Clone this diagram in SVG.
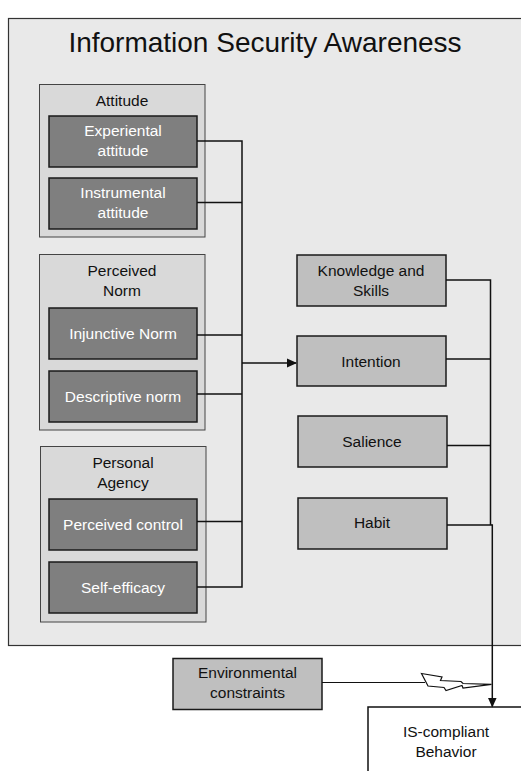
<svg xmlns="http://www.w3.org/2000/svg" width="521" height="771" viewBox="0 0 521 771">
<defs>
<style>
.t{font-family:"Liberation Sans",Arial,sans-serif;font-size:15.5px;text-anchor:middle;fill:#111}
.w{fill:#fff}
.grp{fill:#d9d9d9;stroke:#444;stroke-width:1}
.dk{fill:#7f7f7f;stroke:#1a1a1a;stroke-width:1.5}
.lt{fill:#bfbfbf;stroke:#1a1a1a;stroke-width:1.5}
.ln{fill:none;stroke:#111;stroke-width:1.5}
</style>
<marker id="ah" markerWidth="10" markerHeight="10" refX="9" refY="5" orient="auto" markerUnits="userSpaceOnUse">
<path d="M0,0.5 L10,5 L0,9.5 Z" fill="#111"/>
</marker>
</defs>
<rect width="521" height="771" fill="#fff"/>
<g id="isa">
<rect x="8.5" y="18.5" width="520" height="627" fill="#e9e9e9" stroke="#333" stroke-width="1.2"/>
<text x="265" y="52" class="t" style="font-size:28px">Information Security Awareness</text>
</g>
<g id="attitude">
<rect class="grp" x="39.5" y="84.5" width="165.5" height="152.5"/>
<text class="t" x="122" y="106">Attitude</text>
</g>
<g id="experiental">
<rect class="dk" x="49" y="116" width="148" height="51"/>
<text class="t w" x="123" y="136">Experiental</text>
<text class="t w" x="123" y="156">attitude</text>
</g>
<g id="instrumental">
<rect class="dk" x="49" y="178" width="148" height="51"/>
<text class="t w" x="123" y="198">Instrumental</text>
<text class="t w" x="123" y="218">attitude</text>
</g>
<g id="norm">
<rect class="grp" x="39.5" y="254.5" width="165.5" height="175.5"/>
<text class="t" x="122" y="276">Perceived</text>
<text class="t" x="122" y="296">Norm</text>
</g>
<g id="injunctive">
<rect class="dk" x="49" y="308" width="148" height="51"/>
<text class="t w" x="123" y="338.5">Injunctive Norm</text>
</g>
<g id="descriptive">
<rect class="dk" x="49" y="371" width="148" height="51"/>
<text class="t w" x="123" y="401.5">Descriptive norm</text>
</g>
<g id="agency">
<rect class="grp" x="40.5" y="446.5" width="165.5" height="175.5"/>
<text class="t" x="123" y="468">Personal</text>
<text class="t" x="123" y="488">Agency</text>
</g>
<g id="control">
<rect class="dk" x="49" y="499" width="148" height="51"/>
<text class="t w" x="123" y="530">Perceived control</text>
</g>
<g id="selfefficacy">
<rect class="dk" x="49" y="562" width="148" height="51"/>
<text class="t w" x="123" y="593">Self-efficacy</text>
</g>
<g id="knowledge">
<rect class="lt" x="297" y="255" width="149" height="51"/>
<text class="t" x="371" y="275.5">Knowledge and</text>
<text class="t" x="371" y="295.5">Skills</text>
</g>
<g id="intention">
<rect class="lt" x="297" y="336" width="149" height="50"/>
<text class="t" x="371" y="366.5">Intention</text>
</g>
<g id="salience">
<rect class="lt" x="298" y="416" width="149" height="51"/>
<text class="t" x="372" y="446.5">Salience</text>
</g>
<g id="habit">
<rect class="lt" x="298" y="498" width="149" height="51"/>
<text class="t" x="372" y="528">Habit</text>
</g>
<g id="environmental">
<rect class="lt" x="173" y="658.5" width="149" height="51"/>
<text class="t" x="247.5" y="678">Environmental</text>
<text class="t" x="247.5" y="698">constraints</text>
</g>
<g id="behavior">
<rect x="368" y="707" width="160" height="70" fill="#fff" stroke="#111" stroke-width="1.5"/>
<text class="t" x="446" y="736.5">IS-compliant</text>
<text class="t" x="446" y="756.5">Behavior</text>
</g>
<g id="connectors">
<path class="ln" d="M197,141 H242 M197,202.5 H242 M197,335 H242 M197,394 H242 M197,521.5 H242 M197,587 H242 M242,140.3 V587.7"/>
<path class="ln" d="M242,363 H296" marker-end="url(#ah)"/>
<path class="ln" d="M446,280 H490.5 M446,359 H490.5 M447,445.5 H490.5 M447,525 H492.3 M490.5,279.3 V525"/>
<path class="ln" d="M492.3,524.3 V706.5" marker-end="url(#ah)"/>
<path fill="none" stroke="#111" stroke-width="1.2" d="M322,682.5 H425"/>
<path fill="#fff" stroke="#111" stroke-width="1.2" stroke-linejoin="miter" d="M421.5,673.5 L442,677 L440.5,680.5 L461,681.5 L463,683.5 L491.5,684.3 L463,688 L462,685.5 L446,690.5 L444,687.5 L428,686 Z"/>
</g>
</svg>
